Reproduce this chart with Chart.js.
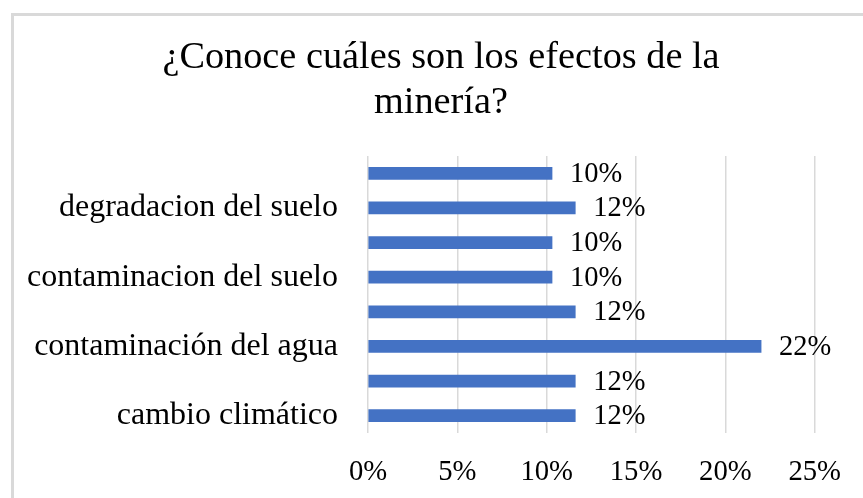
<!DOCTYPE html>
<html lang="es">
<head>
<meta charset="utf-8">
<title>¿Conoce cuáles son los efectos de la minería?</title>
<script src="https://cdn.jsdelivr.net/npm/chart.js@4.4.1/dist/chart.umd.min.js"></script>
<style>
    html, body { margin: 0; padding: 0; background: #fff; overflow: hidden; }
    #wrap { position: relative; width: 863px; height: 498px; }
    #frame {
        position: absolute; left: 11px; top: 13px;
        width: 900px; height: 520px;
        border: 3px solid #d9d9d9; box-sizing: border-box;
    }
    #chart { position: absolute; left: 0; top: 0; }
</style>
</head>
<body>
<div id="wrap">
    <div id="frame"></div>
    <canvas id="chart" width="863" height="498"></canvas>
</div>
<script>
// Categories listed top to bottom (Excel only printed every other label)
const categories = [
    '',
    'degradacion del suelo',
    '',
    'contaminacion del suelo',
    '',
    'contaminación del agua',
    '',
    'cambio climático'
];

// Percent of respondents, same order as categories
const values = [10.3, 11.6, 10.3, 10.3, 11.6, 22.0, 11.6, 11.6];

const titleLines = ['¿Conoce cuáles son los efectos de la', 'minería?'];
const xTicks = [0, 5, 10, 15, 20, 25];

const SERIF = "'Liberation Serif', 'Times New Roman', serif";
const BAR_COLOR = '#4472C4';
const GRID_COLOR = '#d9d9d9';

/**
 * Title centred on the outer frame rather than the canvas
 */
const frameTitle = {
    id: 'frameTitle',
    afterDraw(chart) {
        const ctx = chart.ctx;
        ctx.save();
        ctx.font = '38.3px ' + SERIF;
        ctx.fillStyle = '#000';
        ctx.textAlign = 'center';
        ctx.textBaseline = 'alphabetic';
        titleLines.forEach((line, i) => {
            ctx.fillText(line, 441, 68 + i * 45);
        });
        ctx.restore();
    }
};

/**
 * Draws the rounded percent label to the right of each bar
 */
const barLabels = {
    id: 'barLabels',
    afterDatasetsDraw(chart) {
        const ctx = chart.ctx;
        const meta = chart.getDatasetMeta(0);
        ctx.save();
        ctx.font = '28.5px ' + SERIF;
        ctx.fillStyle = '#000';
        ctx.textAlign = 'left';
        ctx.textBaseline = 'middle';
        meta.data.forEach((bar, i) => {
            const txt = Math.round(values[i]) + '%';
            ctx.fillText(txt, bar.x + 18, bar.y + 1);
        });
        ctx.restore();
    }
};

const ctx = document.getElementById('chart').getContext('2d');
new Chart(ctx, {
    type: 'bar',
    data: {
        labels: categories,
        datasets: [{
            data: values,
            backgroundColor: BAR_COLOR,
            borderWidth: 0,
            barThickness: 12
        }]
    },
    options: {
        indexAxis: 'y',
        responsive: false,
        animation: false,
        layout: {
            padding: { top: 156, left: 0, right: 45, bottom: 0 }
        },
        plugins: {
            legend: { display: false },
            tooltip: { enabled: false },
            title: { display: false }
        },
        scales: {
            x: {
                min: 0,
                max: 25,
                afterBuildTicks(scale) {
                    scale.ticks = xTicks.map(v => ({ value: v }));
                },
                afterFit(scale) {
                    scale.height = 65;
                },
                ticks: {
                    color: '#000',
                    padding: 22,
                    font: { family: SERIF, size: 28.7 },
                    callback: v => v + '%'
                },
                grid: {
                    color: GRID_COLOR,
                    lineWidth: 1.5,
                    drawTicks: false
                },
                border: { display: false }
            },
            y: {
                afterFit(scale) {
                    scale.width = 368;
                },
                ticks: {
                    color: '#000',
                    padding: 30,
                    autoSkip: false,
                    font: { family: SERIF, size: 32 }
                },
                grid: { display: false, drawTicks: false },
                border: { display: false }
            }
        }
    },
    plugins: [barLabels, frameTitle]
});
</script>
</body>
</html>
